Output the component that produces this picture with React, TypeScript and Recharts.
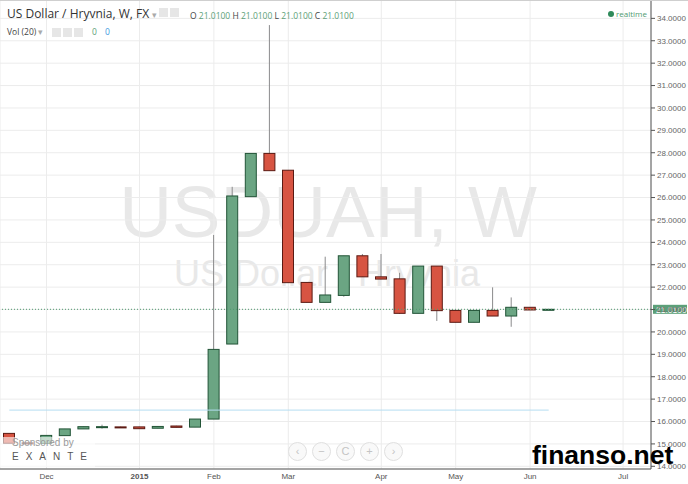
import React from "react"
import {
  ComposedChart,
  Bar,
  XAxis,
  YAxis,
  CartesianGrid,
  ReferenceLine,
} from "recharts"

// ── weekly USD/UAH candles ─────────────────────────────────────
const weeks = [
  "2014-11-10", "2014-11-17", "2014-11-24", "2014-12-01", "2014-12-08",
  "2014-12-15", "2014-12-22", "2014-12-29", "2015-01-05", "2015-01-12",
  "2015-01-19", "2015-01-26", "2015-02-02", "2015-02-09", "2015-02-16",
  "2015-02-23", "2015-03-02", "2015-03-09", "2015-03-16", "2015-03-23",
  "2015-03-30", "2015-04-06", "2015-04-13", "2015-04-20", "2015-04-27",
  "2015-05-04", "2015-05-11", "2015-05-18", "2015-05-25", "2015-06-01",
  "2015-06-08", "2015-06-15", "2015-06-22", "2015-06-29", "2015-07-06",
]

const opens = [
  15.47, 15.05, 15.02, 15.37, 15.67, 15.76, 15.76, 15.76, 15.70, 15.80,
  15.75, 16.11, 19.46, 26.04, 27.97, 27.22, 22.21, 21.32, 21.63, 23.40,
  22.46, 22.37, 20.83, 22.94, 20.96, 20.43, 20.96, 20.71, 21.10, 21.00,
]
const highs = [
  15.47, 15.05, 15.38, 15.67, 15.77, 15.86, 15.77, 15.77, 15.78, 15.81,
  16.11, 24.33, 26.48, 27.97, 33.70, 27.22, 22.21, 23.36, 23.40, 23.48,
  23.48, 22.64, 22.94, 22.94, 20.96, 20.96, 21.99, 21.54, 21.10, 21.02,
]
const lows = [
  15.03, 14.99, 15.02, 15.37, 15.67, 15.68, 15.72, 15.68, 15.70, 15.74,
  15.75, 16.11, 19.46, 26.04, 27.20, 22.20, 21.32, 21.32, 21.57, 22.46,
  22.36, 20.80, 20.83, 20.49, 20.43, 20.43, 20.71, 20.23, 20.98, 20.99,
]
const closes = [
  15.03, 15.00, 15.38, 15.67, 15.77, 15.77, 15.73, 15.68, 15.78, 15.74,
  16.11, 19.22, 26.07, 27.97, 27.20, 22.20, 21.32, 21.65, 23.40, 22.46,
  22.36, 20.83, 22.94, 20.95, 20.43, 20.96, 20.71, 21.10, 20.98, 21.01,
]

const monthTicks = [
  "2014-11-24", "2014-12-29", "2015-01-26", "2015-02-23",
  "2015-03-30", "2015-04-27", "2015-05-25", "2015-06-29",
]
const monthLabels = ["Dec", "2015", "Feb", "Mar", "Apr", "May", "Jun", "Jul"]

const priceTicks = [14, 15, 16, 17, 18, 19, 20, 21, 22, 23, 24, 25, 26, 27, 28, 29, 30, 31, 32, 33, 34]
const lastPrice = 21.01
const levelLine = 16.51

const data = weeks.map((week, i) => ({
  week,
  o: opens[i],
  h: highs[i],
  l: lows[i],
  c: closes[i],
}))

const UP = { fill: "#6ba583", stroke: "#225437" }
const DOWN = { fill: "#d75442", stroke: "#5b1a13" }

function Candle(props: any) {
  const { x, y, width, height, payload } = props
  if (payload == null || payload.h == null) return null
  const top = Math.min(y, y + height)
  const span = Math.abs(height)
  const ppu = span / (payload.h - payload.l || 1)
  const bodyHi = Math.max(payload.o, payload.c)
  const bodyLo = Math.min(payload.o, payload.c)
  const bodyY = top + (payload.h - bodyHi) * ppu
  const bodyH = Math.max((bodyHi - bodyLo) * ppu, 1)
  const col = payload.c >= payload.o ? UP : DOWN
  const cx = x + width / 2
  return (
    <g>
      <line x1={cx} x2={cx} y1={top} y2={top + span} stroke="#8a8a8c" strokeWidth={1} />
      <rect x={x + 0.5} y={bodyY} width={width - 1} height={bodyH} fill={col.fill} stroke={col.stroke} strokeWidth={1} />
    </g>
  )
}

function MonthTick(props: any) {
  const { x, y, payload } = props
  const label = monthLabels[monthTicks.indexOf(payload.value)] ?? ""
  return (
    <text
      x={x}
      y={y + 8}
      textAnchor="middle"
      fontSize={8}
      fill="#555"
      fontWeight={label === "2015" ? "bold" : "normal"}
      fontFamily="'Liberation Sans', Arial"
    >
      {label}
    </text>
  )
}

function PriceBadge(props: any) {
  const vb = props.viewBox || {}
  const bx = vb.x + vb.width + 2
  return (
    <g>
      <rect x={bx} y={vb.y - 4.5} width={34} height={9} fill="#5c9f78" />
      <text x={bx + 3} y={vb.y + 3.2} fill="#fff" fontSize={8.5} fontFamily="'Liberation Sans', Arial">
        {lastPrice.toFixed(4)}
      </text>
    </g>
  )
}

const navGlyphs = ["‹", "−", "C", "+", "›"]

export default function App() {
  return (
    <div style={{ position: "absolute", left: 0, top: 0, width: 688, height: 484, background: "#fff", overflow: "hidden" }}>
      {/* watermark */}
      <svg width={651} height={469} style={{ position: "absolute", left: 0, top: 0 }}>
        <text x={328} y={237} textAnchor="middle" fontSize={73} fill="#e8e8e8" fontFamily="'Liberation Sans', Arial">
          USDUAH, W
        </text>
        <text x={327} y={286} textAnchor="middle" fontSize={36} fill="#e8e8e8" fontFamily="'Liberation Sans', Arial">
          US Dollar / Hryvnia
        </text>
      </svg>

      <div style={{ position: "absolute", left: 0, top: 0 }}>
        <ComposedChart width={688} height={484} data={data} margin={{ top: 0, right: 0, bottom: 0, left: 0 }}>
          <CartesianGrid stroke="#ececec" />
          <XAxis
            dataKey="week"
            height={15}
            ticks={monthTicks}
            interval={0}
            tick={<MonthTick />}
            tickLine={false}
            tickSize={0}
            axisLine={{ stroke: "#555" }}
          />
          <YAxis
            orientation="right"
            width={37}
            domain={[13.88, 34.82]}
            allowDataOverflow
            ticks={priceTicks}
            interval={0}
            tickFormatter={(v: number) => v.toFixed(4)}
            tick={{ fill: "#666", fontSize: 8, fontFamily: "'Liberation Sans', Arial", textAnchor: "start" }}
            tickSize={4}
            tickLine={{ stroke: "#555" }}
            axisLine={{ stroke: "#555" }}
          />
          <ReferenceLine
            segment={[{ x: weeks[0], y: levelLine }, { x: weeks[29], y: levelLine }]}
            stroke="#b5ddf1"
            strokeWidth={1}
          />
          <Bar
            dataKey={(d: any) => (d.h == null ? null : [d.l, d.h])}
            barSize={12}
            shape={<Candle />}
            isAnimationActive={false}
          />
          <ReferenceLine y={lastPrice} stroke="#4f9a70" strokeDasharray="1 2" label={<PriceBadge />} />
        </ComposedChart>
      </div>

      {/* header */}
      <div style={{ position: "absolute", left: 0, top: 0, width: 688, height: 1, background: "#cfcfcf" }} />
      <div style={{ position: "absolute", left: 7, top: 5, fontFamily: "'Open Sans', sans-serif", fontSize: 12, color: "#333", whiteSpace: "nowrap" }}>
        US Dollar / Hryvnia, W, FX <span style={{ color: "#aaa", fontSize: 9 }}>▾</span>
      </div>
      <div style={{ position: "absolute", left: 159, top: 8, width: 9, height: 9, background: "#e6e6e6" }} />
      <div style={{ position: "absolute", left: 170, top: 8, width: 9, height: 9, background: "#e6e6e6" }} />
      <div style={{ position: "absolute", left: 190, top: 10, fontFamily: "'Open Sans', sans-serif", fontSize: 8.5, color: "#444", whiteSpace: "nowrap" }}>
        O <span style={{ color: "#5c9f78" }}>21.0100</span> H <span style={{ color: "#5c9f78" }}>21.0100</span> L{" "}
        <span style={{ color: "#5c9f78" }}>21.0100</span> C <span style={{ color: "#5c9f78" }}>21.0100</span>
      </div>
      <div style={{ position: "absolute", left: 7, top: 26, fontFamily: "'Open Sans', sans-serif", fontSize: 8.5, color: "#444", whiteSpace: "nowrap" }}>
        Vol (20) <span style={{ color: "#aaa" }}>▾</span>
      </div>
      {[52, 63, 74].map((lx) => (
        <div key={lx} style={{ position: "absolute", left: lx, top: 28, width: 9, height: 9, background: "#e6e6e6" }} />
      ))}
      <div style={{ position: "absolute", left: 92, top: 26, fontFamily: "'Open Sans', sans-serif", fontSize: 8.5, whiteSpace: "nowrap" }}>
        <span style={{ color: "#5c9f78" }}>0</span>
        <span style={{ color: "#3d9be0", marginLeft: 8 }}>0</span>
      </div>
      <div style={{ position: "absolute", left: 608, top: 8, fontFamily: "'Open Sans', sans-serif", fontSize: 8, color: "#4f9a70", whiteSpace: "nowrap" }}>
        <span style={{ display: "inline-block", width: 6, height: 6, borderRadius: 3, background: "#2f8a5a", marginRight: 2 }} />
        realtime
      </div>

      {/* sponsor overlay */}
      <div style={{ position: "absolute", left: 0, top: 437, width: 95, height: 30, background: "rgba(255,255,255,0.6)" }} />
      <div style={{ position: "absolute", left: 12, top: 437, fontFamily: "'Liberation Sans', Arial", fontSize: 10, color: "#9a9a9a" }}>
        Sponsored by
      </div>
      <div style={{ position: "absolute", left: 12, top: 451, fontFamily: "'Liberation Sans', Arial", fontSize: 10, color: "#555", letterSpacing: 7 }}>
        EXANTE
      </div>

      {/* nav buttons */}
      {navGlyphs.map((g, i) => (
        <div
          key={i}
          style={{
            position: "absolute",
            left: 288 + i * 24,
            top: 442,
            width: 17,
            height: 17,
            borderRadius: 10,
            border: "1px solid #e0e0e0",
            background: "rgba(248,248,248,0.8)",
            color: "#c4c4c4",
            fontFamily: "'Liberation Sans', Arial",
            fontSize: 11,
            textAlign: "center",
            lineHeight: "17px",
          }}
        >
          {g}
        </div>
      ))}

      <div style={{ position: "absolute", left: 532, top: 440, fontFamily: "'Liberation Sans', Arial", fontWeight: "bold", fontSize: 26.5, color: "#000", lineHeight: "30px" }}>
        finanso.net
      </div>
    </div>
  )
}
